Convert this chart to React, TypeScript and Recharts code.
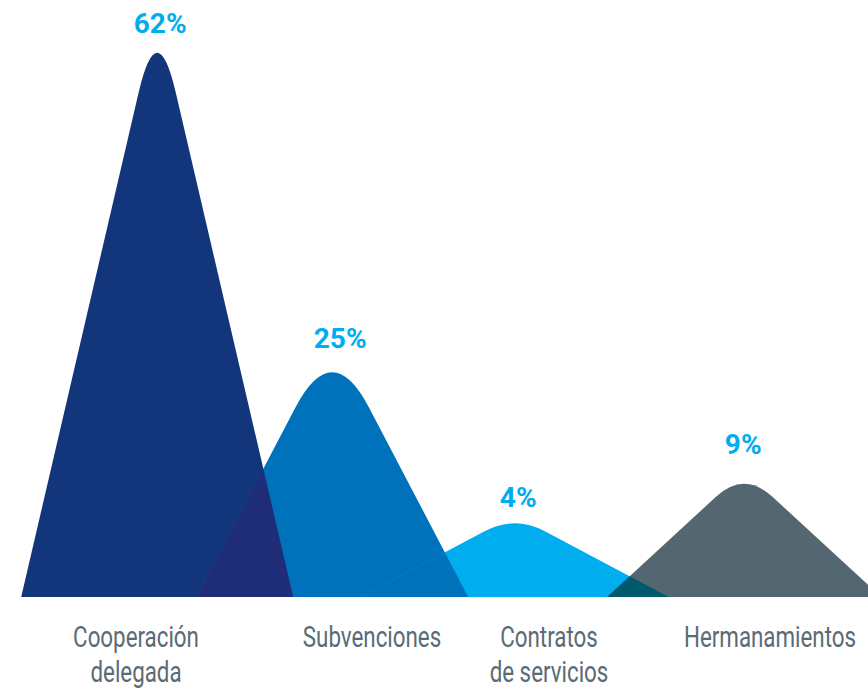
import React from 'react';
import { BarChart, Bar, XAxis, YAxis } from 'recharts';

// values
const categories = ['Cooperación\ndelegada', 'Subvenciones', 'Contratos\nde servicios', 'Hermanamientos'];
const shares = [62, 25, 4, 9];
// drawn height of each peak (axis units, domain 0-68)
const peakHeights = [62, 25.6, 8.4, 12.9];

const data = categories.map((name, i) => ({ name, share: shares[i], height: peakHeights[i] }));

// styling per peak
const PEAK_COLORS = ['#13357b', '#0072bb', '#00adee', '#546670'];
const OVERLAP_COLORS = [null, '#1f2c78', '#0072bb', '#005a6d'];
const PEAK_SHIFT = [48.5, 6.5, -28, -15.5];
const PEAK_HALF_BASE = [136, 136, 154, 137];
const PEAK_ROUND = [40, 35, 8, 13];
const TICK_SHIFT = [27.5, 46.5, 6.5, 10.5];
const LABEL_DX = [3, 8, 3.5, -1];
const LABEL_GAP = [20, 24, 16, 30];

const peakPath = (cx: number, top: number, base: number, hw: number, lift: number) => {
  const apex = top - lift;
  const t = top + lift;
  const ht = (hw * (t - apex)) / (base - apex);
  return `M${cx - hw},${base} L${cx - ht},${t} Q${cx},${apex} ${cx + ht},${t} L${cx + hw},${base} Z`;
};

const PeakShape = (props: any) => {
  const { x, y, width, height, index, payload } = props;
  const cx = x + width / 2 + PEAK_SHIFT[index];
  const d = peakPath(cx, y, y + height, PEAK_HALF_BASE[index], PEAK_ROUND[index]);
  const overlap = OVERLAP_COLORS[index];
  return (
    <g>
      <defs>
        <clipPath id={`peak-clip-${index}`}>
          <path d={d} />
        </clipPath>
      </defs>
      <path d={d} fill={PEAK_COLORS[index]} />
      {overlap && <path d={d} fill={overlap} clipPath={`url(#peak-clip-${index - 1})`} />}
      <text
        x={cx + LABEL_DX[index]}
        y={y - LABEL_GAP[index]}
        textAnchor="middle"
        fill="#00adee"
        fontSize={28}
        fontWeight={700}
        fontFamily="Roboto, 'DejaVu Sans', sans-serif"
      >
        {`${payload.share}%`}
      </text>
    </g>
  );
};

// condensed look: Roboto squeezed horizontally
const CategoryTick = (props: any) => {
  const { x, y, payload, index } = props;
  const lines = String(payload.value).split('\n');
  return (
    <g transform={`translate(${x + TICK_SHIFT[index]},${y}) scale(0.77,1)`}>
      <text textAnchor="middle" fill="#5a6b75" fontSize={29} fontFamily="Roboto, sans-serif">
        {lines.map((line, k) => (
          <tspan key={k} x={0} y={50 + k * 35}>
            {line}
          </tspan>
        ))}
      </text>
    </g>
  );
};

export default function App() {
  return (
    <div style={{ position: 'absolute', left: 0, top: 0, background: '#fff' }}>
      <BarChart width={868} height={691} data={data} margin={{ top: 0, right: 0, bottom: 0, left: 0 }}>
        <XAxis
          dataKey="name"
          height={94}
          axisLine={false}
          tickLine={false}
          tickSize={0}
          tickMargin={0}
          interval={0}
          tick={<CategoryTick />}
        />
        <YAxis hide domain={[0, 68]} />
        <Bar dataKey="height" shape={PeakShape} isAnimationActive={false} />
      </BarChart>
    </div>
  );
}
